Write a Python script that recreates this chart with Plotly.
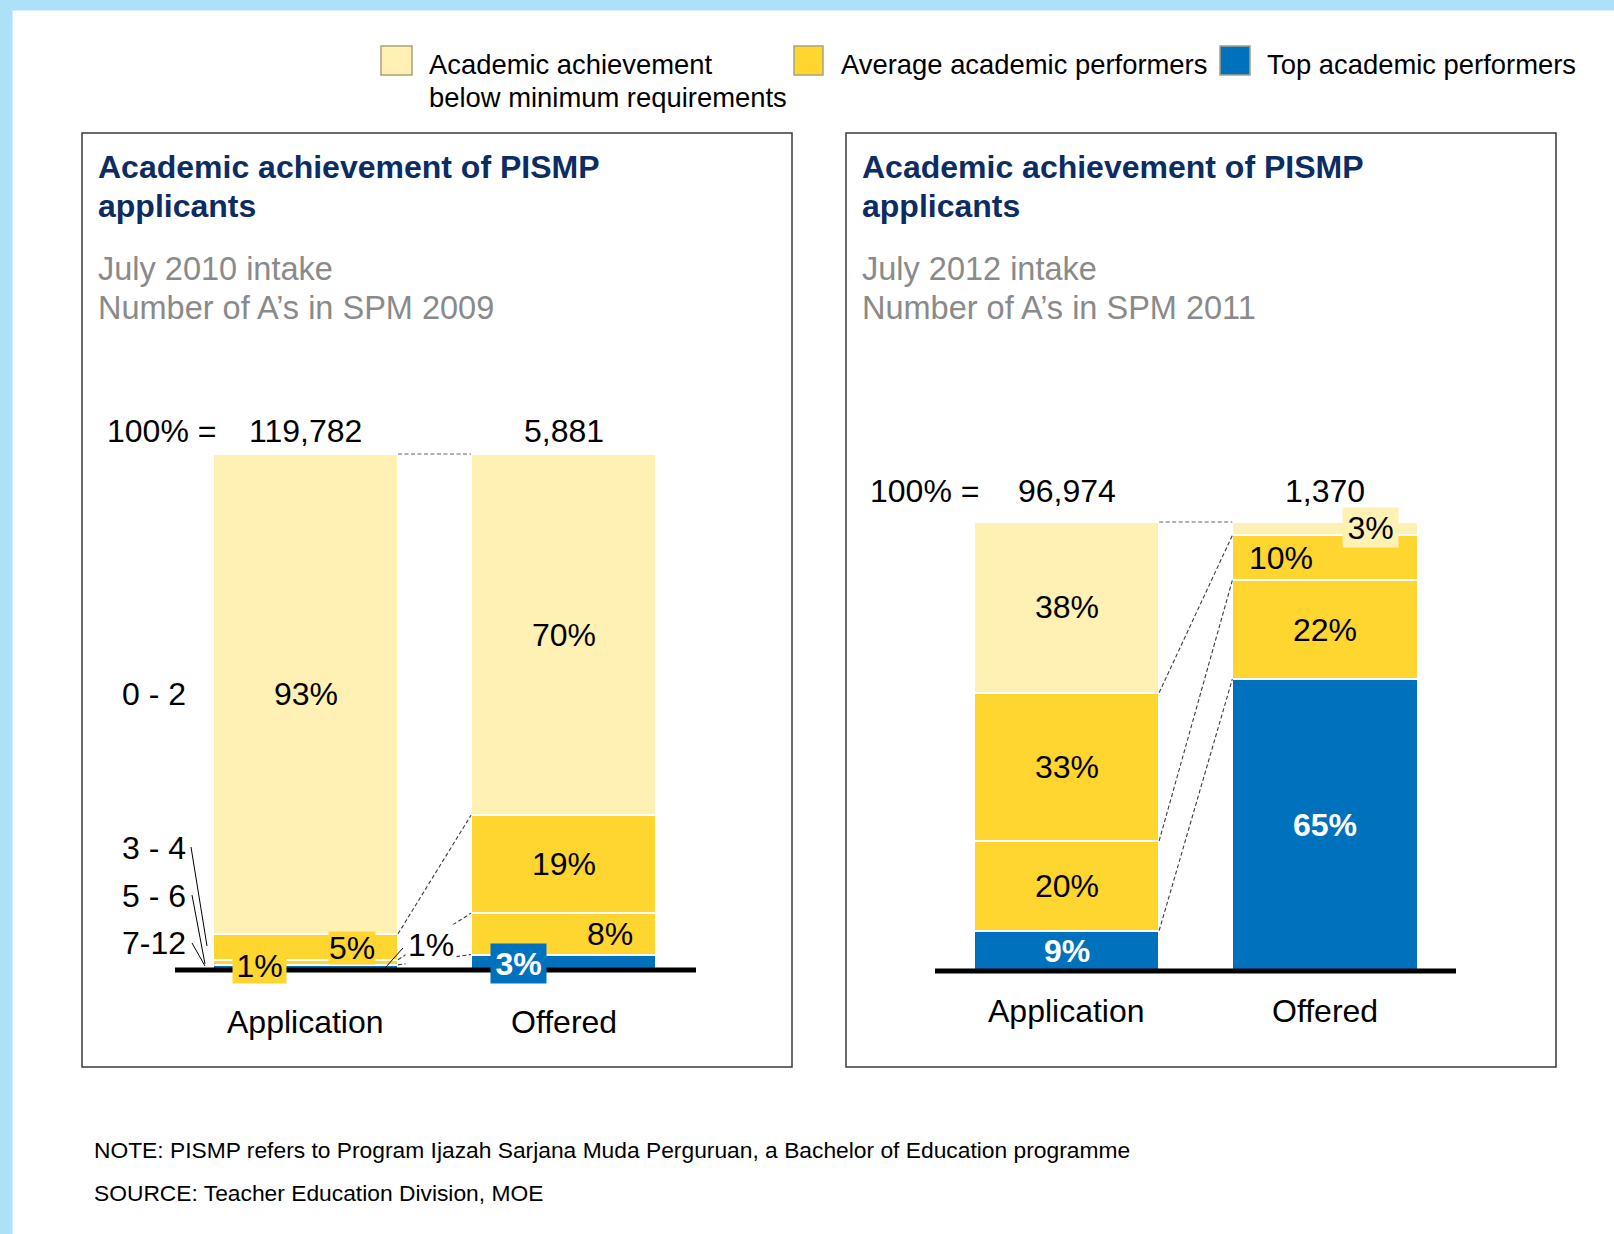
import plotly.graph_objects as go

FONT = "Liberation Sans, Arial, Helvetica, sans-serif"
W, H = 1614, 1234

# ---------------- data ----------------
categories = ["Application", "Offered"]
bands = ["0 - 2", "3 - 4", "5 - 6", "7-12"]
band_group = ["below", "average", "average", "top"]
app_2010 = [93, 5, 1, 1]
off_2010 = [70, 19, 8, 3]
app_2012 = [38, 33, 20, 9]
off_2012 = [3, 10, 22, 65]
totals_2010 = ["119,782", "5,881"]
totals_2012 = ["96,974", "1,370"]
legend_labels = ["Academic achievement", "below minimum requirements",
                 "Average academic performers", "Top academic performers"]
titles = ["Academic achievement of PISMP", "applicants"]
sub_2010 = ["July 2010 intake", "Number of A\u2019s in SPM 2009"]
sub_2012 = ["July 2012 intake", "Number of A\u2019s in SPM 2011"]
note = "NOTE: PISMP refers to Program Ijazah Sarjana Muda Perguruan, a Bachelor of Education programme"
source = "SOURCE: Teacher Education Division, MOE"

# ---------------- styles ----------------
colors = {"below": "#FFF0B4", "average": "#FFD530", "top": "#0071BC"}
NAVY = "#0C2C64"
GREY = "#8A8A8A"
BW = 0.717
NUM = 32


def px(x):
    return x / W


def py(y):
    return 1 - y / H


# panel geometry (pixels)
LP = dict(x0=305.5, xu=258.0, y0=970.0, yu=5.16, box=(82, 133, 792, 1067))
RP = dict(x0=1066.5, xu=258.5, y0=971.0, yu=4.49, box=(846, 133, 1556, 1067))


def dx(P, p):
    return (p - P["x0"]) / P["xu"]


def dy(P, p):
    return (P["y0"] - p) / P["yu"]


fig = go.Figure()


def add_bars(app, off, xa, ya):
    for i in reversed(range(len(bands))):
        fig.add_trace(go.Bar(
            x=[0, 1], y=[app[i], off[i]], width=BW, name=bands[i],
            marker=dict(color=colors[band_group[i]], line=dict(color="white", width=2)),
            xaxis=xa, yaxis=ya, showlegend=False, hoverinfo="skip"))


add_bars(app_2010, off_2010, "x", "y")
add_bars(app_2012, off_2012, "x2", "y2")

shapes = []
annots = []

# background bands
shapes.append(dict(type="rect", xref="paper", yref="paper", x0=0, x1=1, y0=py(10.5), y1=1,
                   fillcolor="#ADE1F7", line=dict(width=0), layer="below"))
shapes.append(dict(type="rect", xref="paper", yref="paper", x0=0, x1=px(12.5), y0=0, y1=1,
                   fillcolor="#ADE1F7", line=dict(width=0), layer="below"))

# panel boxes
for P in (LP, RP):
    x0, y0, x1, y1 = P["box"]
    shapes.append(dict(type="rect", xref="paper", yref="paper", x0=px(x0), x1=px(x1),
                       y0=py(y1), y1=py(y0), line=dict(color="#3A3A3A", width=1.5),
                       fillcolor="rgba(0,0,0,0)", layer="below"))


def mids(vals):
    out = []
    for i in range(len(vals)):
        base = sum(vals[i + 1:])
        out.append(base + vals[i] / 2)
    return out


def cum_top(vals, i):
    return sum(vals[i:])


def text(xref, yref, x, y, t, size=NUM, color="black", xanchor="center", bold=False,
         bg=None, w=None, h=None):
    d = dict(xref=xref, yref=yref, x=x, y=y, text=("<b>%s</b>" % t) if bold else t,
             showarrow=False, xanchor=xanchor, yanchor="middle",
             font=dict(family=FONT, size=size, color=color))
    if bg:
        d.update(bgcolor=bg, borderpad=0)
    if w:
        d.update(width=w, height=h)
    annots.append(d)


def dline(xref, yref, x0, y0, x1, y1, color="#3C3C3C", width=1.1, dash="4px,2.5px"):
    shapes.append(dict(type="line", xref=xref, yref=yref, x0=x0, y0=y0, x1=x1, y1=y1,
                       line=dict(color=color, width=width, dash=dash), layer="above"))


# ---------------- left panel ----------------
xr, yr = "x", "y"
ae, oe = BW / 2, 1 - BW / 2
dline(xr, yr, ae, 100, oe, 100, color="#666666")
dline(xr, yr, ae, cum_top(app_2010, 1), oe, cum_top(off_2010, 1))
dline(xr, yr, ae, cum_top(app_2010, 2), oe, cum_top(off_2010, 2))
dline(xr, yr, ae, cum_top(app_2010, 3), oe, cum_top(off_2010, 3))
shapes.append(dict(type="line", xref=xr, yref=yr, x0=dx(LP, 175), x1=dx(LP, 696), y0=0, y1=0,
                   line=dict(color="black", width=5), layer="above"))
for (a, b, c, d) in [(191, 847, 207, 946), (192, 895, 205, 964), (192, 943, 205, 966)]:
    dline(xr, yr, dx(LP, a), dy(LP, b), dx(LP, c), dy(LP, d), color="black", width=1, dash="solid")
dline(xr, yr, dx(LP, 385), dy(LP, 968), dx(LP, 403), dy(LP, 948), color="black", width=1, dash="solid")

m_app = mids(app_2010)
m_off = mids(off_2010)
text(xr, yr, 0, m_app[0], f"{app_2010[0]}%")
text(xr, yr, dx(LP, 352), dy(LP, 948), f"{app_2010[1]}%", bg=colors["average"], w=46, h=32)
text(xr, yr, dx(LP, 259.5), dy(LP, 966), f"{app_2010[2]}%", bg=colors["average"], w=53, h=34)
text(xr, yr, dx(LP, 431), dy(LP, 945), f"{app_2010[3]}%", bg="white", w=50, h=40)
text(xr, yr, 1, m_off[0], f"{off_2010[0]}%")
text(xr, yr, 1, m_off[1], f"{off_2010[1]}%")
text(xr, yr, dx(LP, 610), m_off[2], f"{off_2010[2]}%")
text(xr, yr, dx(LP, 518.5), dy(LP, 963.5), f"{off_2010[3]}%", color="white", bold=True,
     bg=colors["top"], w=55, h=39)
row_y = [m_app[0], dy(LP, 848), dy(LP, 896), dy(LP, 943)]
for lab, yy in zip(bands, row_y):
    text(xr, yr, dx(LP, 188), yy, lab, xanchor="right")
text(xr, yr, dx(LP, 105), dy(LP, 431), "100% =", xanchor="left")
for i, t in enumerate(totals_2010):
    text(xr, yr, i, dy(LP, 431), t)
for i, c in enumerate(categories):
    text(xr, yr, i, dy(LP, 1022), c, size=32)

# ---------------- right panel ----------------
xr, yr = "x2", "y2"
dline(xr, yr, ae, 100, oe, 100, color="#666666")
dline(xr, yr, ae, cum_top(app_2012, 1), oe, cum_top(off_2012, 1))
dline(xr, yr, ae, cum_top(app_2012, 2), oe, cum_top(off_2012, 2))
dline(xr, yr, ae, cum_top(app_2012, 3), oe, cum_top(off_2012, 3))
shapes.append(dict(type="line", xref=xr, yref=yr, x0=dx(RP, 935), x1=dx(RP, 1456), y0=0, y1=0,
                   line=dict(color="black", width=5), layer="above"))
m_app = mids(app_2012)
m_off = mids(off_2012)
for i in range(4):
    top = band_group[i] == "top"
    text(xr, yr, 0, m_app[i], f"{app_2012[i]}%", color="white" if top else "black", bold=top)
text(xr, yr, dx(RP, 1370.5), dy(RP, 527.5), f"{off_2012[0]}%", bg=colors["below"], w=55, h=39)
text(xr, yr, dx(RP, 1281), m_off[1], f"{off_2012[1]}%")
text(xr, yr, 1, m_off[2], f"{off_2012[2]}%")
text(xr, yr, 1, m_off[3], f"{off_2012[3]}%", color="white", bold=True)
text(xr, yr, dx(RP, 868), dy(RP, 491), "100% =", xanchor="left")
for i, t in enumerate(totals_2012):
    text(xr, yr, i, dy(RP, 491), t)
for i, c in enumerate(categories):
    text(xr, yr, i, dy(RP, 1011), c, size=32)

# ---------------- titles ----------------
for x0, subs in ((96, sub_2010), (860, sub_2012)):
    text("paper", "paper", px(x0), py(167), titles[0], size=32, color=NAVY, xanchor="left", bold=True)
    text("paper", "paper", px(x0), py(206), titles[1], size=32, color=NAVY, xanchor="left", bold=True)
    text("paper", "paper", px(x0), py(269), subs[0], size=32.5, color=GREY, xanchor="left")
    text("paper", "paper", px(x0), py(308), subs[1], size=32.5, color=GREY, xanchor="left")

# ---------------- legend ----------------
for (x0, x1, g) in ((381, 412, "below"), (794, 823, "average"), (1220, 1250, "top")):
    shapes.append(dict(type="rect", xref="paper", yref="paper", x0=px(x0), x1=px(x1),
                       y0=py(75), y1=py(46), fillcolor=colors[g],
                       line=dict(color="#A9A27C", width=1.5)))
text("paper", "paper", px(427), py(64), legend_labels[0], size=27.4, xanchor="left")
text("paper", "paper", px(427), py(97), legend_labels[1], size=27.4, xanchor="left")
text("paper", "paper", px(839), py(64), legend_labels[2], size=27.4, xanchor="left")
text("paper", "paper", px(1265), py(64), legend_labels[3], size=27.4, xanchor="left")

# ---------------- footnotes ----------------
text("paper", "paper", px(92), py(1150), note, size=22.8, xanchor="left")
text("paper", "paper", px(92), py(1193), source, size=22.8, xanchor="left")


def yrange(P):
    return [dy(P, P["box"][3]), dy(P, P["box"][1])]


def xrange(P):
    return [dx(P, P["box"][0]), dx(P, P["box"][2])]


ax = dict(visible=False, showgrid=False, zeroline=False, fixedrange=True)
fig.update_layout(
    width=W, height=H, margin=dict(l=0, r=0, t=0, b=0),
    paper_bgcolor="white", plot_bgcolor="rgba(0,0,0,0)",
    barmode="stack", hovermode=False, showlegend=False,
    xaxis=dict(ax, domain=[px(LP["box"][0]), px(LP["box"][2])], range=xrange(LP)),
    yaxis=dict(ax, domain=[py(LP["box"][3]), py(LP["box"][1])], range=yrange(LP)),
    xaxis2=dict(ax, domain=[px(RP["box"][0]), px(RP["box"][2])], range=xrange(RP), anchor="y2"),
    yaxis2=dict(ax, domain=[py(RP["box"][3]), py(RP["box"][1])], range=yrange(RP), anchor="x2"),
    shapes=shapes, annotations=annots,
    font=dict(family=FONT),
)

fig.write_html("out.html", config={"displayModeBar": False},
               post_script="document.body.style.margin='0';document.body.style.overflow='hidden';")
